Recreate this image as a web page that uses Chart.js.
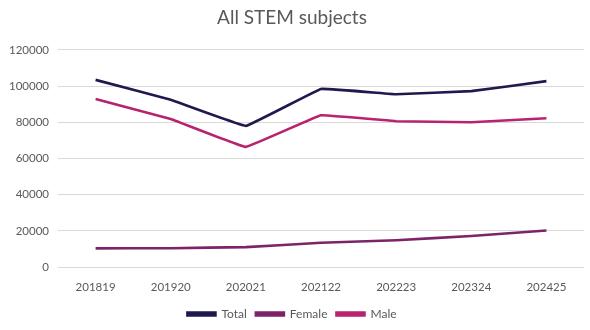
<!DOCTYPE html>
<html>
<head>
<meta charset="utf-8">
<script src="https://cdn.jsdelivr.net/npm/chart.js@4"></script>
<style>
  html, body { margin: 0; padding: 0; background: #fff; }
  #wrap { width: 590px; height: 330px; position: relative; }
</style>
</head>
<body>
<div id="wrap"><canvas id="stemChart"></canvas></div>
<script>
const years = ['201819', '201920', '202021', '202122', '202223', '202324', '202425'];
const totalVals = [103400, 92400, 78000, 98400, 95500, 97200, 102700];
const femaleVals = [10400, 10500, 11100, 13500, 14900, 17200, 20300];
const maleVals = [92900, 81800, 66400, 83900, 80600, 80000, 82200];
const yTicks = [0, 20000, 40000, 60000, 80000, 100000, 120000];

const txt = '#595959';
Chart.defaults.font.family = "Lato, 'Open Sans', sans-serif";

function line(label, data, color) {
  return {
    label, data,
    borderColor: color,
    backgroundColor: color,
    borderWidth: 2.6,
    pointRadius: 0,
    tension: 0.05,
    fill: false
  };
}

new Chart(document.getElementById('stemChart').getContext('2d'), {
  type: 'line',
  data: {
    labels: years,
    datasets: [
      line('Total', totalVals, '#1e1a4d'),
      line('Female', femaleVals, '#7d2368'),
      line('Male', maleVals, '#b8236f')
    ]
  },
  options: {
    responsive: true,
    maintainAspectRatio: false,
    animation: false,
    layout: { padding: { left: 0, right: 6, top: 4, bottom: 0 } },
    plugins: {
      title: {
        display: true,
        text: 'All STEM subjects',
        color: txt,
        font: { size: 19, weight: 'normal' },
        padding: { top: 2, bottom: 21 }
      },
      legend: {
        position: 'bottom',
        labels: {
          color: txt,
          font: { size: 12 },
          boxWidth: 28,
          boxHeight: 3,
          padding: 9
        }
      },
      tooltip: { enabled: false }
    },
    scales: {
      x: {
        offset: true,
        grid: { display: false },
        border: { display: false },
        ticks: { color: txt, font: { size: 11.5 }, padding: 5, maxRotation: 0 }
      },
      y: {
        min: 0,
        max: 120000,
        afterBuildTicks: (axis) => { axis.ticks = yTicks.map(v => ({ value: v })); },
        grid: { color: '#d9d9d9', lineWidth: 1, drawTicks: false },
        border: { display: false },
        ticks: { color: txt, font: { size: 11.5 }, padding: 9, callback: (v) => String(v) }
      }
    }
  }
});
</script>
</body>
</html>
